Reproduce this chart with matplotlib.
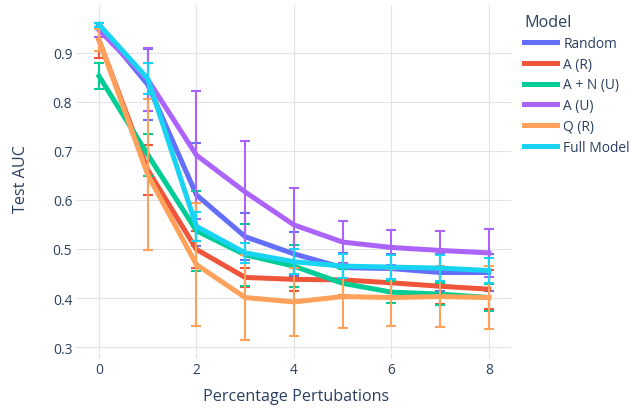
import matplotlib
matplotlib.use("Agg")
import matplotlib.pyplot as plt

# === DATA ===
x = [0, 1, 2, 3, 4, 5, 6, 7, 8]
models = ["Random", "A (R)", "A + N (U)", "A (U)", "Q (R)", "Full Model"]
colors = ["#636EFA", "#EF553B", "#00CC96", "#AB63FA", "#FFA15A", "#19D3F3"]

random_auc = [0.955, 0.835, 0.610, 0.525, 0.490, 0.462, 0.460, 0.452, 0.452]
random_err = [0.006, 0.072, 0.105, 0.048, 0.045, 0.030, 0.030, 0.037, 0.038]
ar_auc = [0.925, 0.661, 0.499, 0.442, 0.438, 0.437, 0.431, 0.424, 0.418]
ar_err = [0.036, 0.051, 0.038, 0.020, 0.023, 0.030, 0.030, 0.037, 0.040]
anu_auc = [0.852, 0.692, 0.537, 0.488, 0.465, 0.430, 0.412, 0.408, 0.401]
anu_err = [0.026, 0.043, 0.082, 0.063, 0.043, 0.030, 0.022, 0.022, 0.028]
au_auc = [0.946, 0.845, 0.691, 0.616, 0.549, 0.514, 0.503, 0.497, 0.492]
au_err = [0.015, 0.064, 0.131, 0.104, 0.075, 0.042, 0.036, 0.040, 0.049]
qr_auc = [0.926, 0.651, 0.468, 0.401, 0.392, 0.403, 0.401, 0.403, 0.401]
qr_err = [0.022, 0.154, 0.125, 0.087, 0.069, 0.064, 0.059, 0.063, 0.064]
full_auc = [0.957, 0.847, 0.546, 0.492, 0.474, 0.465, 0.463, 0.461, 0.456]
full_err = [0.004, 0.031, 0.029, 0.021, 0.025, 0.025, 0.025, 0.027, 0.026]

series = [random_auc, ar_auc, anu_auc, au_auc, qr_auc, full_auc]
errors = [random_err, ar_err, anu_err, au_err, qr_err, full_err]

TEXT = "#2a3f5f"
GRID = "#E3E3E3"
plt.rcParams["font.family"] = ["Open Sans", "DejaVu Sans"]

# =========================
# FIGURE
# =========================
fig = plt.figure(figsize=(6.33, 4.14), dpi=100)
ax = fig.add_axes([0.1295, 0.1473, 0.6773, 0.8382])

handles = []
for i, name in enumerate(models):
	c = ax.errorbar(x, series[i], yerr=errors[i], color=colors[i], linewidth=3.6,
		elinewidth=1.5, capsize=3.4, capthick=1.5, label=name, zorder=2 + i * 0.1)
	handles.append(c.lines[0])

ax.set_xlim(-0.35, 8.45)
ax.set_ylim(0.29, 0.997)
ax.set_xticks([0, 2, 4, 6, 8])
ax.set_yticks([0.3, 0.4, 0.5, 0.6, 0.7, 0.8, 0.9])
ax.set_yticklabels(["0.3", "0.4", "0.5", "0.6", "0.7", "0.8", "0.9"])
ax.grid(True, color=GRID, linewidth=0.8)
ax.set_axisbelow(True)
for s in ax.spines.values():
	s.set_visible(False)
ax.tick_params(colors=GRID, labelcolor=TEXT, labelsize=9.9, length=4, width=0.8, pad=3)

ax.set_xlabel("Percentage Pertubations", color=TEXT, fontsize=11.6, labelpad=8)
ax.set_ylabel("Test AUC", color=TEXT, fontsize=11.6, labelpad=17)

# legend on the right, title aligned left
leg = fig.legend(handles=handles, labels=models, title="Model", loc="upper left",
	bbox_to_anchor=(0.817, 0.98), frameon=False, fontsize=9.9,
	title_fontsize=11.6, handlelength=2.4, handletextpad=0.45, labelspacing=0.42,
	alignment="left", borderpad=0.0)
leg.get_title().set_color(TEXT)
for t in leg.get_texts():
	t.set_color(TEXT)

fig.savefig("out.png", dpi=100)
